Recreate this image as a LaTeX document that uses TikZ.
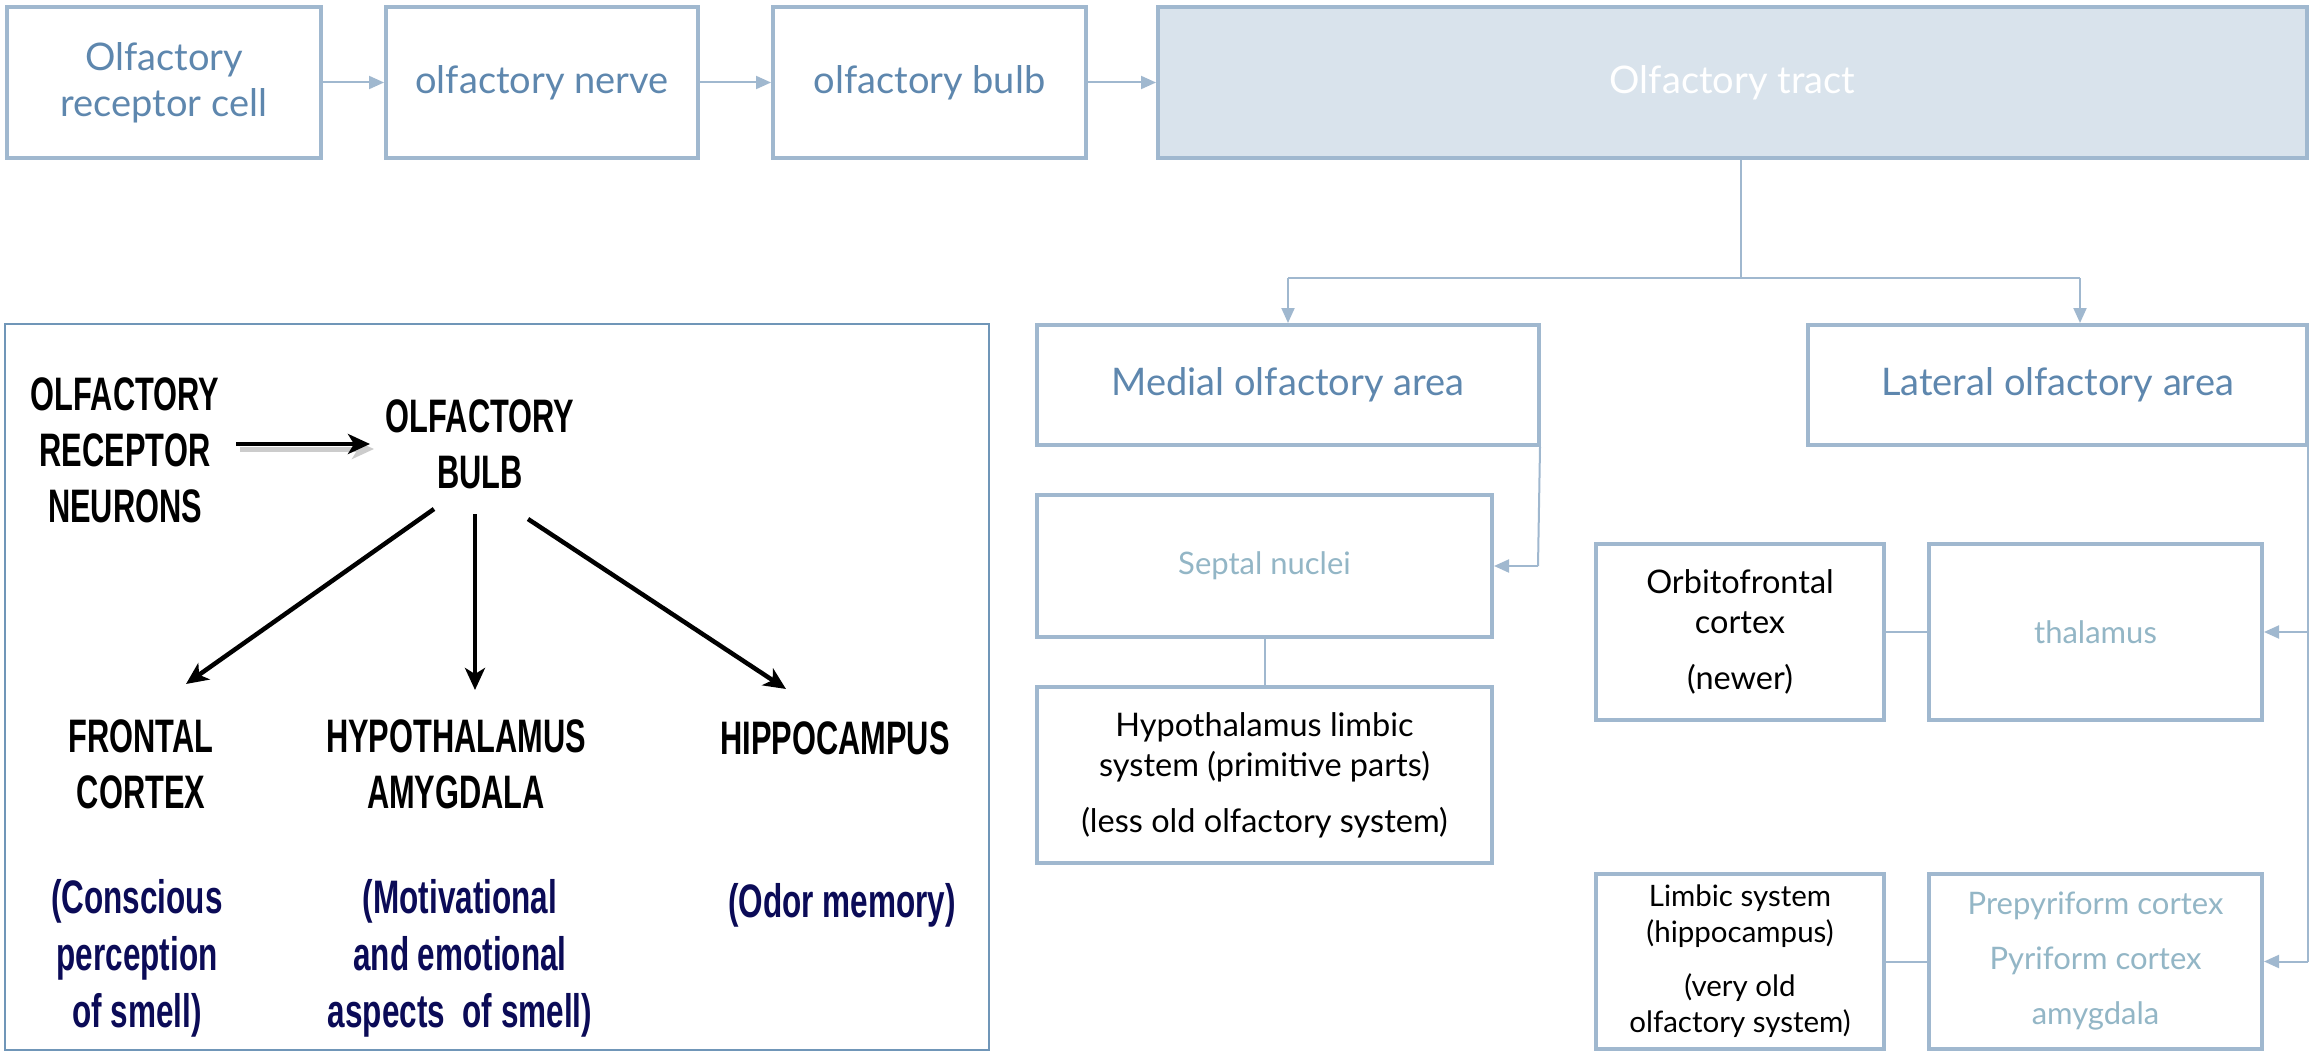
\documentclass[tikz,border=0pt]{standalone}
\usepackage{fontspec}
\setmainfont{Lato}
\newfontfamily\narrowf{Liberation Sans}
\usetikzlibrary{arrows.meta}
\definecolor{bord}{HTML}{A0B8CF}
\definecolor{toptxt}{HTML}{5E87AE}
\definecolor{tractfill}{HTML}{D9E3EC}
\definecolor{lighttxt}{HTML}{93B6C6}
\definecolor{panelframe}{HTML}{7096B8}
\definecolor{navy}{HTML}{0B0B57}
\tikzset{
  bx/.style={draw=bord, line width=4pt, fill=white, inner sep=0pt, align=center},
  topbx/.style={bx, text=toptxt, font=\fontsize{38}{46}\selectfont},
  midbx/.style={bx, text=toptxt, font=\fontsize{38}{46}\selectfont},
  lightbx/.style={bx, text=lighttxt, font=\fontsize{31}{38}\selectfont},
  blackbx/.style={bx, text=black, font=\fontsize{32.5}{40}\selectfont},
  conn/.style={draw=bord, line width=2pt},
  arr/.style={conn, -{Triangle[length=15pt,width=13pt]}},
  cond/.style={font=\narrowf\bfseries\fontsize{47}{56}\selectfont, align=center, xscale=0.655, inner sep=0pt, text=black},
  condnavy/.style={font=\narrowf\bfseries\fontsize{47}{57}\selectfont, align=center, xscale=0.67, inner sep=0pt, text=navy},
  blk/.style={line width=4.5pt, -{Stealth[length=22pt,width=20pt,inset=6pt]}}
}
\begin{document}
\begin{tikzpicture}[x=1pt,y=-1pt]
\useasboundingbox (0,0) rectangle (2310,1051);
\fill[white] (0,0) rectangle (2310,1051);

% top row
\node[topbx, minimum width=314pt, minimum height=151pt] (rc) at (164,82.5) {Olfactory\\receptor cell};
\node[topbx, minimum width=312pt, minimum height=151pt] (nerve) at (542,82.5) {olfactory nerve};
\node[topbx, minimum width=313pt, minimum height=151pt] (bulb) at (929.5,82.5) {olfactory bulb};
\node[topbx, fill=tractfill, text=white, minimum width=1149pt, minimum height=151pt] (tract) at (1732.5,82.5) {Olfactory tract};
\draw[arr] (rc.east) -- (nerve.west);
\draw[arr] (nerve.east) -- (bulb.west);
\draw[arr] (bulb.east) -- (tract.west);

% second level
\node[midbx, minimum width=502pt, minimum height=120pt] (medial) at (1288,385) {Medial olfactory area};
\node[midbx, minimum width=499pt, minimum height=120pt] (lateral) at (2057.5,385) {Lateral olfactory area};
\coordinate (tsplit) at (1741,278);
\coordinate (tmed) at (1288,278);
\coordinate (tlat) at (2080,278);
\draw[conn] (tract.south -| tsplit) -- (tsplit);
\draw[conn] (tmed) -- (tlat);
\draw[arr] (tmed) -- (medial.north);
\draw[arr] (tlat) -- (tlat |- lateral.north);

% medial branch
\node[lightbx, minimum width=455pt, minimum height=142pt] (septal) at (1264.5,566) {Septal nuclei};
\node[blackbx, minimum width=455pt, minimum height=176pt] (hypo) at (1264.5,775) {Hypothalamus limbic\\system (primitive parts)\\[16pt](less old olfactory system)};
\coordinate (mdown) at (1538,566);
\draw[conn] (medial.south east) ++(-1,0) -- (mdown);
\draw[arr] (mdown) -- (septal.east);
\draw[conn] (septal.south) -- (hypo.north);

% lateral branch
\node[blackbx, minimum width=288pt, minimum height=176pt] (orbito) at (1740,632) {Orbitofrontal\\cortex\\[16pt](newer)};
\node[lightbx, minimum width=333pt, minimum height=176pt] (thal) at (2095.5,632) {thalamus};
\node[blackbx, font=\fontsize{29.5}{36}\selectfont, minimum width=288pt, minimum height=175pt] (limbic) at (1740,961.5) {Limbic system\\(hippocampus)\\[18pt](very old\\olfactory system)};
\node[lightbx, minimum width=333pt, minimum height=175pt] (prepy) at (2095.5,961.5) {Prepyriform cortex\\[17pt]Pyriform cortex\\[17pt]amygdala};
\coordinate (lthal) at (2308,632);
\coordinate (lprepy) at (2308,961.5);
\draw[conn] (lateral.south east) ++(-1,0) -- (lprepy);
\draw[arr] (lthal) -- (thal.east);
\draw[arr] (lprepy) -- (prepy.east);
\draw[conn] (orbito.east) -- (thal.west);
\draw[conn] (limbic.east) -- (prepy.west);

% left panel
\node[draw=panelframe, line width=2pt, minimum width=984pt, minimum height=726pt, inner sep=0pt] (panel) at (497,687) {};
\node[cond] (lorn) at (125,450) {OLFACTORY\\RECEPTOR\\NEURONS};
\node[cond] (lob) at (480,444) {OLFACTORY\\BULB};
\node[cond] (lfc) at (141,764) {FRONTAL\\CORTEX};
\node[cond] (lha) at (456,764) {HYPOTHALAMUS\\AMYGDALA};
\node[cond] (lhc) at (835,738) {HIPPOCAMPUS};
\node[condnavy] (lfcd) at (137,958) {(Conscious\\perception\\of smell)};
\node[condnavy] (lhad) at (460,958) {(Motivational\\and emotional\\aspects\ \ of smell)};
\node[condnavy] (lhcd) at (842,905) {(Odor memory)};

\coordinate (a0s) at (236,444); \coordinate (a0e) at (370,444);
\coordinate (a1s) at (434,509); \coordinate (a1e) at (186,684);
\coordinate (a2s) at (475,514); \coordinate (a2e) at (475,690);
\coordinate (a3s) at (528,519); \coordinate (a3e) at (786,689);
\draw[line width=5pt, gray!40, -{Stealth[length=22pt,width=20pt,inset=6pt]}] ([shift={(4,5)}]a0s) -- ([shift={(4,5)}]a0e);
\draw[blk] (a0s) -- (a0e);
\draw[blk] (a1s) -- (a1e);
\draw[blk] (a2s) -- (a2e);
\draw[blk] (a3s) -- (a3e);
\end{tikzpicture}
\end{document}
